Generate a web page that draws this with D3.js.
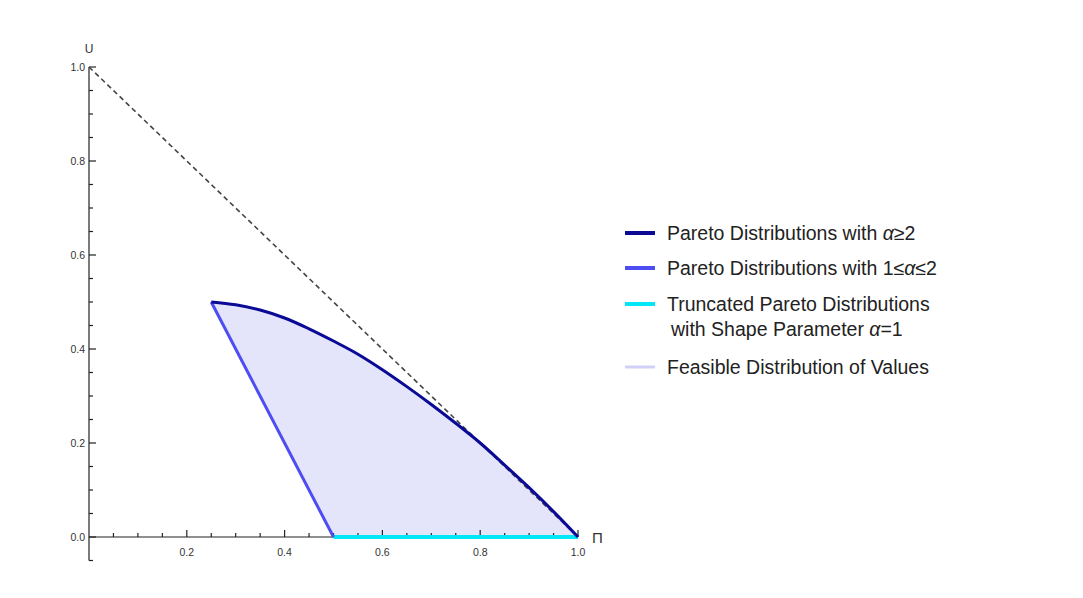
<!DOCTYPE html>
<html>
<head>
<meta charset="utf-8">
<script src="https://cdn.jsdelivr.net/npm/d3@7"></script>
<style>
  body { margin: 0; background: #fff; }
  svg { font-family: "Liberation Sans", Arial, sans-serif; }
</style>
</head>
<body>
<svg id="viz" width="1083" height="598"></svg>
<script>
// upper edge: Pareto with alpha >= 2
var paretoHiX = [0.25, 0.30, 0.35, 0.40, 0.45, 0.50, 0.55, 0.60, 0.65, 0.70, 0.75, 0.80, 0.85, 0.90, 0.95, 1.00];
var paretoHiY = [0.500, 0.494, 0.483, 0.466, 0.443, 0.417, 0.389, 0.356, 0.320, 0.282, 0.242, 0.200, 0.153, 0.105, 0.054, 0.000];
// lower edge: Pareto with 1 <= alpha <= 2
var paretoLoX = [0.25, 0.5];
var paretoLoY = [0.5, 0.0];
// truncated pareto, alpha = 1
var truncX = [0.5, 1.0];
var truncY = [0.0, 0.0];
// dashed bound U = 1 - Pi
var boundX = [0, 1];
var boundY = [1, 0];

var xTicks = [0.2, 0.4, 0.6, 0.8, 1.0];
var yTicks = [0.0, 0.2, 0.4, 0.6, 0.8, 1.0];

var legendLabels = [
  ["Pareto Distributions with ", {it: "\u03b1"}, "\u22652"],
  ["Pareto Distributions with 1\u2264", {it: "\u03b1"}, "\u22642"],
  ["Truncated Pareto Distributions"],
  ["Feasible Distribution of Values"]
];
var legendColors = ["#0a0a96", "#4d4df2", "#00e8f8", "#d0d0f6"];

var svg = d3.select("#viz");

var x = d3.scaleLinear().domain([0, 1]).range([89, 578]);
var y = d3.scaleLinear().domain([0, 1]).range([537, 67]);

function pts(xs, ys) { return xs.map((v, i) => [v, ys[i]]); }
var line = d3.line().x(d => x(d[0])).y(d => y(d[1]));
var smooth = d3.line().x(d => x(d[0])).y(d => y(d[1])).curve(d3.curveCatmullRom.alpha(0.5));

// feasible region
var regionPts = pts(paretoHiX, paretoHiY);
svg.append("path")
  .attr("d", smooth(regionPts) + "L" + x(paretoLoX[1]) + "," + y(paretoLoY[1]) + "Z")
  .attr("fill", "#e4e4fa");

// axes
var gx = svg.append("g");
gx.append("line").attr("x1", x(0)).attr("x2", x(1)).attr("y1", y(0)).attr("y2", y(0))
  .attr("stroke", "#222").attr("stroke-width", 1.2);
var xMinor = d3.range(1, 21).map(i => i * 0.05);
gx.selectAll(".tk").data(xMinor).enter().append("line")
  .attr("x1", d => x(d)).attr("x2", d => x(d))
  .attr("y1", y(0)).attr("y2", d => y(0) - (Math.abs(d * 5 - Math.round(d * 5)) < 1e-6 ? 7 : 4))
  .attr("stroke", "#222").attr("stroke-width", 1.2);
gx.selectAll("text").data(xTicks).enter().append("text")
  .attr("x", d => x(d)).attr("y", y(0) + 19)
  .attr("text-anchor", "middle").attr("font-size", 10.5).attr("fill", "#333")
  .text(d => d.toFixed(1));

var gy = svg.append("g");
gy.append("line").attr("x1", x(0)).attr("x2", x(0)).attr("y1", y(1)).attr("y2", y(-0.05))
  .attr("stroke", "#222").attr("stroke-width", 1.2);
var yMinor = d3.range(-1, 21).map(i => i * 0.05);
gy.selectAll(".tk").data(yMinor).enter().append("line")
  .attr("y1", d => y(d)).attr("y2", d => y(d))
  .attr("x1", x(0)).attr("x2", d => x(0) + (Math.abs(d * 5 - Math.round(d * 5)) < 1e-6 ? 7 : 4))
  .attr("stroke", "#222").attr("stroke-width", 1.2);
gy.selectAll("text").data(yTicks).enter().append("text")
  .attr("x", x(0) - 4).attr("y", d => y(d) + 4)
  .attr("text-anchor", "end").attr("font-size", 10.5).attr("fill", "#333")
  .text(d => d.toFixed(1));

svg.append("text").attr("x", x(0)).attr("y", y(1) - 14)
  .attr("text-anchor", "middle").attr("font-size", 12).attr("fill", "#333").text("U");
svg.append("text").attr("x", x(1) + 14).attr("y", y(0) + 6)
  .attr("text-anchor", "start").attr("font-size", 15).attr("fill", "#333").text("\u03a0");

// dashed bound
svg.append("path").attr("d", line(pts(boundX, boundY)))
  .attr("fill", "none").attr("stroke", "#444").attr("stroke-width", 1.6)
  .attr("stroke-dasharray", "5,3.5");

// curves
svg.append("path").attr("d", line(pts(truncX, truncY)))
  .attr("fill", "none").attr("stroke", legendColors[2]).attr("stroke-width", 4);
svg.append("path").attr("d", line(pts(paretoLoX, paretoLoY)))
  .attr("fill", "none").attr("stroke", legendColors[1]).attr("stroke-width", 3);
svg.append("path").attr("d", smooth(pts(paretoHiX, paretoHiY)))
  .attr("fill", "none").attr("stroke", legendColors[0]).attr("stroke-width", 3);

// legend
var legY = [233, 268, 304, 367];
var leg = svg.append("g");
legendLabels.forEach(function(parts, i) {
  leg.append("line").attr("x1", 625).attr("x2", 655).attr("y1", legY[i]).attr("y2", legY[i])
    .attr("stroke", legendColors[i]).attr("stroke-width", i == 3 ? 3 : 4);
  var t = leg.append("text").attr("x", 667).attr("y", legY[i] + 7)
    .attr("font-size", 19.5).attr("fill", "#222");
  parts.forEach(function(p) {
    if (typeof p === "string") t.append("tspan").text(p);
    else t.append("tspan").attr("font-style", "italic").text(p.it);
  });
});
var t2 = leg.append("text").attr("x", 671).attr("y", 304 + 7 + 25)
  .attr("font-size", 19.5).attr("fill", "#222");
t2.append("tspan").text("with Shape Parameter ");
t2.append("tspan").attr("font-style", "italic").text("\u03b1");
t2.append("tspan").text("=1");
</script>
</body>
</html>
